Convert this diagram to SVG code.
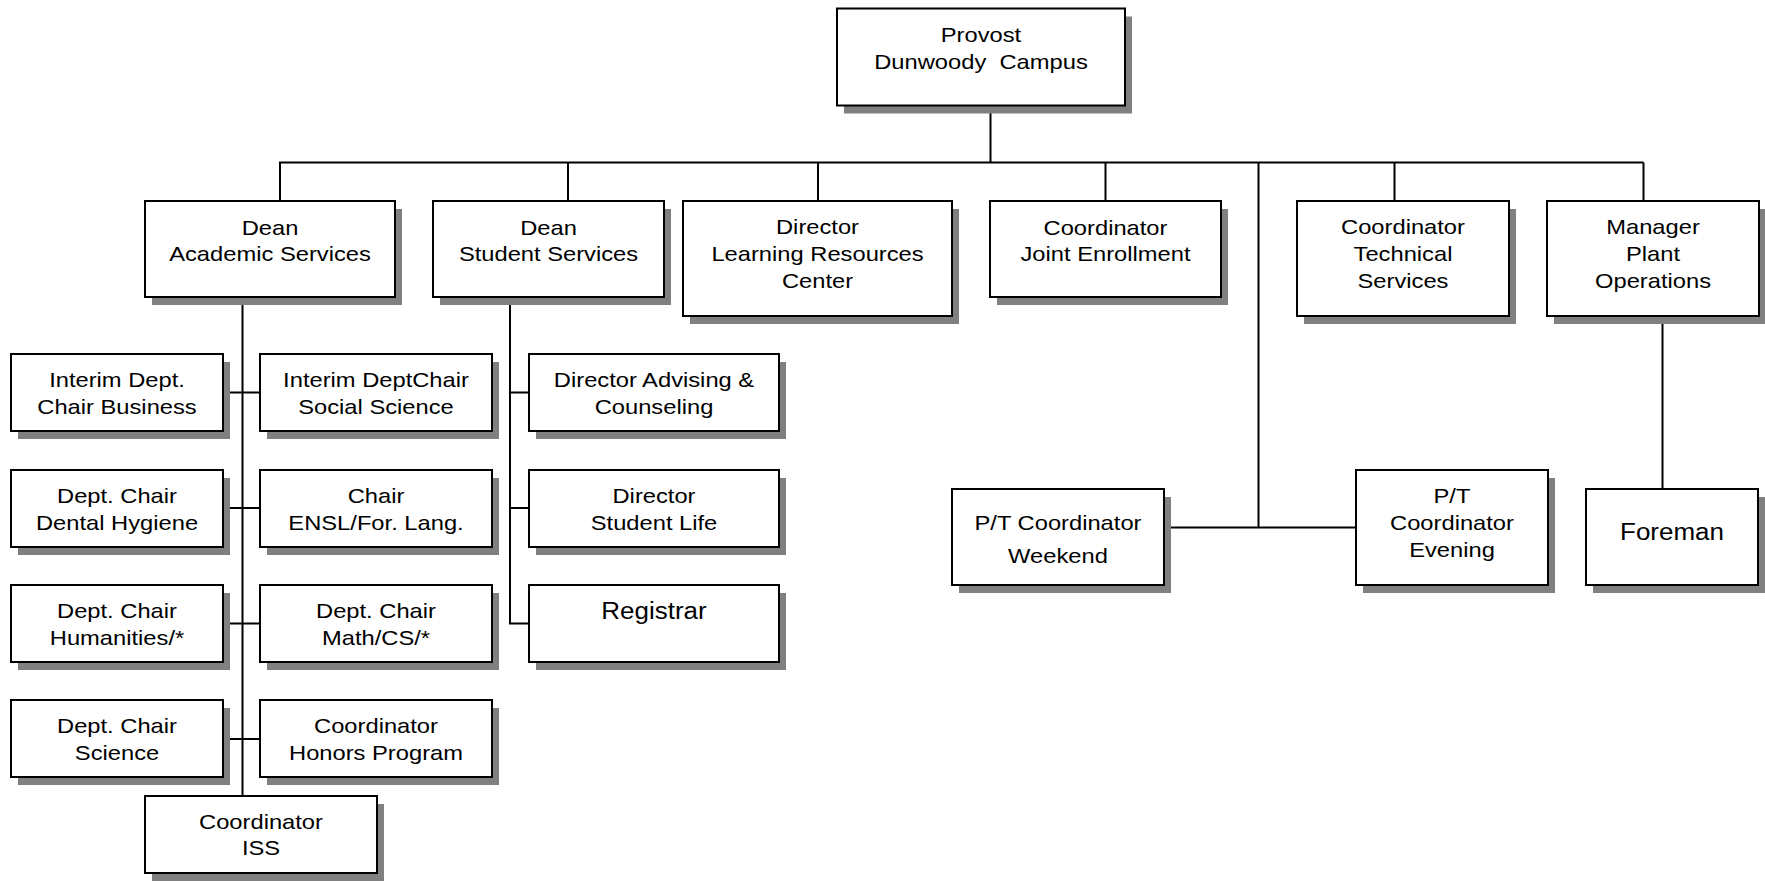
<svg xmlns="http://www.w3.org/2000/svg" width="1765" height="881" viewBox="0 0 1765 881">
<style>
.sh{fill:#808080;stroke:none}
.bx{fill:#fff;stroke:#000;stroke-width:2}
.t{font-family:"Liberation Sans",Arial,sans-serif;font-size:21px;fill:#000;text-anchor:middle}
.tb{font-size:23px}
.cn{fill:none;stroke:#000;stroke-width:2}
</style>
<rect width="1765" height="881" fill="#fff"/>
<g id="connectors" class="cn">
<path d="M990.5 105.5V162.5M279 162.5H1643.5"/>
<path d="M280 162.5V201M568 162.5V201M818 162.5V201M1105.5 162.5V201M1394.5 162.5V201M1643.5 162.5V201"/>
<path d="M1258.5 162.5V527.5M1164 527.5H1356"/>
<path d="M242.5 297V796M223 392.5H260M223 508H260M223 623.5H260M223 739H260"/>
<path d="M510 297V623.5H529M510 392.5H529M510 508H529"/>
<path d="M1662.5 316V489"/>
</g>
<g id="provost"><rect class="sh" x="844" y="16.5" width="288" height="97"/><rect class="bx" x="837" y="8.5" width="288" height="97"/><text class="t" transform="matrix(1.13 0 0 1 981 0)"><tspan x="0" y="42">Provost</tspan><tspan x="0" y="69.5">Dunwoody&#160; Campus</tspan></text></g>
<g id="dean-academic"><rect class="sh" x="152" y="209" width="250" height="96"/><rect class="bx" x="145" y="201" width="250" height="96"/><text class="t" transform="matrix(1.13 0 0 1 270 0)"><tspan x="0" y="235">Dean</tspan><tspan x="0" y="261">Academic Services</tspan></text></g>
<g id="dean-student"><rect class="sh" x="440" y="209" width="231" height="96"/><rect class="bx" x="433" y="201" width="231" height="96"/><text class="t" transform="matrix(1.13 0 0 1 548.5 0)"><tspan x="0" y="235">Dean</tspan><tspan x="0" y="261">Student Services</tspan></text></g>
<g id="lrc"><rect class="sh" x="690" y="209" width="269" height="115"/><rect class="bx" x="683" y="201" width="269" height="115"/><text class="t" transform="matrix(1.13 0 0 1 817.5 0)"><tspan x="0" y="234.5">Director</tspan><tspan x="0" y="261.5">Learning Resources</tspan><tspan x="0" y="288.5">Center</tspan></text></g>
<g id="joint"><rect class="sh" x="997" y="209" width="231" height="96"/><rect class="bx" x="990" y="201" width="231" height="96"/><text class="t" transform="matrix(1.13 0 0 1 1105.5 0)"><tspan x="0" y="235">Coordinator</tspan><tspan x="0" y="261">Joint Enrollment</tspan></text></g>
<g id="technical"><rect class="sh" x="1304" y="209" width="212" height="115"/><rect class="bx" x="1297" y="201" width="212" height="115"/><text class="t" transform="matrix(1.13 0 0 1 1403 0)"><tspan x="0" y="234.5">Coordinator</tspan><tspan x="0" y="261.5">Technical</tspan><tspan x="0" y="288.5">Services</tspan></text></g>
<g id="manager"><rect class="sh" x="1554" y="209" width="212" height="115"/><rect class="bx" x="1547" y="201" width="212" height="115"/><text class="t" transform="matrix(1.13 0 0 1 1653 0)"><tspan x="0" y="234.5">Manager</tspan><tspan x="0" y="261.5">Plant</tspan><tspan x="0" y="288.5">Operations</tspan></text></g>
<g id="interim-business"><rect class="sh" x="18" y="362" width="212" height="77"/><rect class="bx" x="11" y="354" width="212" height="77"/><text class="t" transform="matrix(1.13 0 0 1 117 0)"><tspan x="0" y="387.5">Interim Dept.</tspan><tspan x="0" y="414">Chair Business</tspan></text></g>
<g id="interim-social"><rect class="sh" x="267" y="362" width="232" height="77"/><rect class="bx" x="260" y="354" width="232" height="77"/><text class="t" transform="matrix(1.13 0 0 1 376 0)"><tspan x="0" y="387.5">Interim DeptChair</tspan><tspan x="0" y="414">Social Science</tspan></text></g>
<g id="dental"><rect class="sh" x="18" y="478" width="212" height="77"/><rect class="bx" x="11" y="470" width="212" height="77"/><text class="t" transform="matrix(1.13 0 0 1 117 0)"><tspan x="0" y="503.5">Dept. Chair</tspan><tspan x="0" y="530">Dental Hygiene</tspan></text></g>
<g id="ensl"><rect class="sh" x="267" y="478" width="232" height="77"/><rect class="bx" x="260" y="470" width="232" height="77"/><text class="t" transform="matrix(1.13 0 0 1 376 0)"><tspan x="0" y="503.5">Chair</tspan><tspan x="0" y="530">ENSL/For. Lang.</tspan></text></g>
<g id="humanities"><rect class="sh" x="18" y="593" width="212" height="77"/><rect class="bx" x="11" y="585" width="212" height="77"/><text class="t" transform="matrix(1.13 0 0 1 117 0)"><tspan x="0" y="618.5">Dept. Chair</tspan><tspan x="0" y="645">Humanities/*</tspan></text></g>
<g id="math"><rect class="sh" x="267" y="593" width="232" height="77"/><rect class="bx" x="260" y="585" width="232" height="77"/><text class="t" transform="matrix(1.13 0 0 1 376 0)"><tspan x="0" y="618.5">Dept. Chair</tspan><tspan x="0" y="645">Math/CS/*</tspan></text></g>
<g id="science"><rect class="sh" x="18" y="708" width="212" height="77"/><rect class="bx" x="11" y="700" width="212" height="77"/><text class="t" transform="matrix(1.13 0 0 1 117 0)"><tspan x="0" y="733.5">Dept. Chair</tspan><tspan x="0" y="760">Science</tspan></text></g>
<g id="honors"><rect class="sh" x="267" y="708" width="232" height="77"/><rect class="bx" x="260" y="700" width="232" height="77"/><text class="t" transform="matrix(1.13 0 0 1 376 0)"><tspan x="0" y="733.5">Coordinator</tspan><tspan x="0" y="760">Honors Program</tspan></text></g>
<g id="iss"><rect class="sh" x="152" y="804" width="232" height="77"/><rect class="bx" x="145" y="796" width="232" height="77"/><text class="t" transform="matrix(1.13 0 0 1 261 0)"><tspan x="0" y="829">Coordinator</tspan><tspan x="0" y="855">ISS</tspan></text></g>
<g id="advising"><rect class="sh" x="536" y="362" width="250" height="77"/><rect class="bx" x="529" y="354" width="250" height="77"/><text class="t" transform="matrix(1.13 0 0 1 654 0)"><tspan x="0" y="387.5">Director Advising &amp;</tspan><tspan x="0" y="414">Counseling</tspan></text></g>
<g id="student-life"><rect class="sh" x="536" y="478" width="250" height="77"/><rect class="bx" x="529" y="470" width="250" height="77"/><text class="t" transform="matrix(1.13 0 0 1 654 0)"><tspan x="0" y="503.5">Director</tspan><tspan x="0" y="530">Student Life</tspan></text></g>
<g id="registrar"><rect class="sh" x="536" y="593" width="250" height="77"/><rect class="bx" x="529" y="585" width="250" height="77"/><text class="t tb" transform="matrix(1.13 0 0 1 654 0)"><tspan x="0" y="619">Registrar</tspan></text></g>
<g id="pt-weekend"><rect class="sh" x="959" y="497" width="212" height="96"/><rect class="bx" x="952" y="489" width="212" height="96"/><text class="t" transform="matrix(1.13 0 0 1 1058 0)"><tspan x="0" y="530.5">P/T Coordinator</tspan><tspan x="0" y="563.5">Weekend</tspan></text></g>
<g id="pt-evening"><rect class="sh" x="1363" y="478" width="192" height="115"/><rect class="bx" x="1356" y="470" width="192" height="115"/><text class="t" transform="matrix(1.13 0 0 1 1452 0)"><tspan x="0" y="503.5">P/T</tspan><tspan x="0" y="530.5">Coordinator</tspan><tspan x="0" y="557">Evening</tspan></text></g>
<g id="foreman"><rect class="sh" x="1593" y="497" width="172" height="96"/><rect class="bx" x="1586" y="489" width="172" height="96"/><text class="t tb" transform="matrix(1.13 0 0 1 1672 0)"><tspan x="0" y="540">Foreman</tspan></text></g>
</svg>
